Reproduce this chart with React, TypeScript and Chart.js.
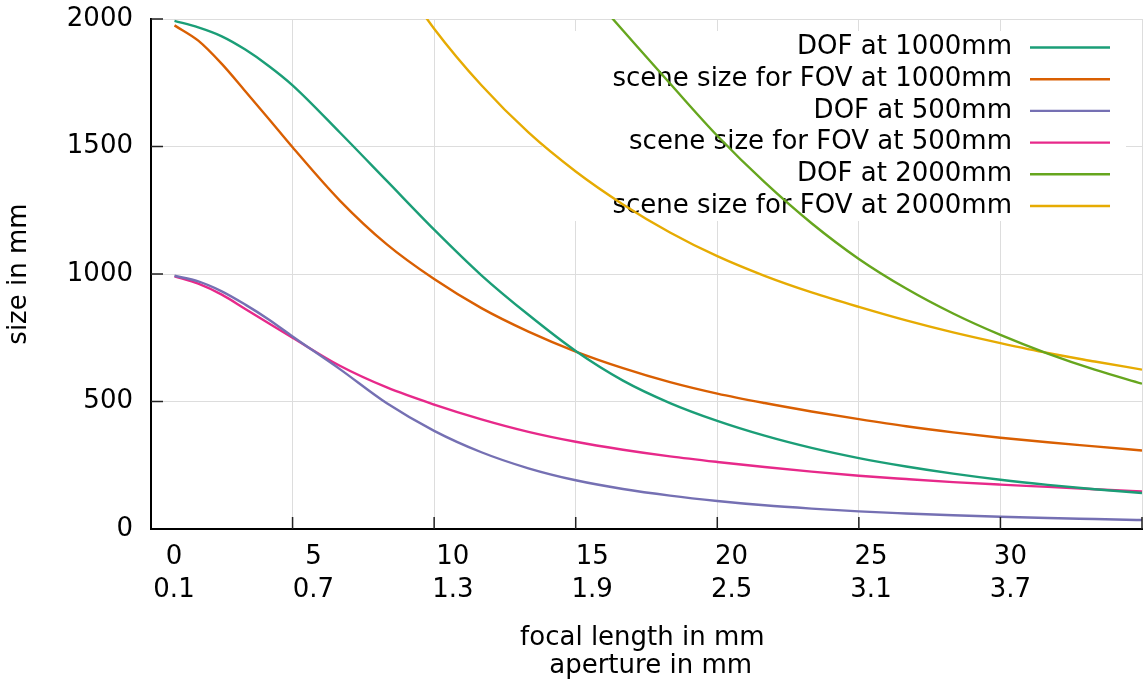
import React, { useEffect, useRef } from 'react';
import { Chart, registerables } from 'chart.js';

Chart.register(...registerables);

// focal length (mm) at which each row was sampled
const focalLength = [0.83, 1.67, 2.5, 3.33, 4.17, 5, 6.67, 8.33, 10, 11.67, 13.33, 15, 16.67, 18.33, 20, 21.67, 23.33, 25, 26.67, 28.33, 30, 31.67, 33.33, 35];

const dof1000 = [1993, 1967, 1932, 1880, 1815, 1740, 1555, 1365, 1174, 995, 840, 698, 582, 494, 424, 366, 318, 278, 245, 217, 193, 173, 156, 141];
const fov1000 = [1975, 1915, 1824, 1717, 1607, 1497, 1288, 1116, 980, 866, 774, 696, 631, 576, 531, 494, 461, 431, 403, 379, 358, 340, 324, 308];
const dof500 = [993, 971, 932, 880, 821, 755, 627, 493, 385, 301, 238, 191, 157, 131, 110, 93, 80, 69, 61, 54, 48, 43, 39, 35];
const fov500 = [991, 962, 919, 863, 806, 750, 640, 555, 488, 430, 381, 342, 311, 285, 263, 243, 225, 209, 196, 184, 174, 165, 156, 147];
const dof2000 = [null, null, null, null, null, null, null, null, null, null, null, 2165, 1955, 1747, 1542, 1360, 1199, 1059, 943, 845, 761, 688, 625, 570];
const fov2000 = [null, null, null, null, null, null, null, 2230, 1962, 1740, 1555, 1402, 1273, 1163, 1070, 993, 928, 871, 818, 771, 729, 690, 657, 625];

const seriesNames = [
  'DOF at 1000mm',
  'scene size for FOV at 1000mm',
  'DOF at 500mm',
  'scene size for FOV at 500mm',
  'DOF at 2000mm',
  'scene size for FOV at 2000mm',
];
const seriesValues = [dof1000, fov1000, dof500, fov500, dof2000, fov2000];
const seriesColors = ['#1b9e77', '#d95f02', '#7570b3', '#e7298a', '#66a61e', '#e6ab02'];

const focalTicks = ['0', '5', '10', '15', '20', '25', '30'];
const apertureTicks = ['0.1', '0.7', '1.3', '1.9', '2.5', '3.1', '3.7'];
const yTicks = [0, 500, 1000, 1500, 2000];

const FONT = "'DejaVu Sans', 'Noto Sans', sans-serif";

const keyPlugin = {
  id: 'gnuplotKey',
  beforeDatasetsDraw(chart: any) {
    const ctx = chart.ctx;
    ctx.save();
    ctx.fillStyle = '#ffffff';
    ctx.fillRect(542, 31, 584, 190);
    ctx.font = `26px ${FONT}`;
    ctx.textAlign = 'right';
    ctx.textBaseline = 'middle';
    chart.data.datasets.forEach((ds: any, i: number) => {
      const y = 47.5 + i * 31.7;
      ctx.fillStyle = '#000000';
      ctx.fillText(ds.label, 1012, y);
      ctx.strokeStyle = ds.borderColor;
      ctx.lineWidth = 2.4;
      ctx.beginPath();
      ctx.moveTo(1030, y);
      ctx.lineTo(1110, y);
      ctx.stroke();
    });
    ctx.restore();
  },
};

const inwardTicksPlugin = {
  id: 'inwardTicks',
  afterDraw(chart: any) {
    const { ctx, chartArea, scales } = chart;
    ctx.save();
    ctx.strokeStyle = '#222222';
    ctx.lineWidth = 1.5;
    ctx.beginPath();
    scales.y.ticks.forEach((t: any) => {
      if (t.value === 0) return;
      const y = scales.y.getPixelForValue(t.value);
      ctx.moveTo(chartArea.left, y);
      ctx.lineTo(chartArea.left + 12, y);
    });
    scales.x.ticks.forEach((t: any) => {
      if (t.value === 0) return;
      const x = scales.x.getPixelForValue(t.value);
      ctx.moveTo(x, chartArea.bottom);
      ctx.lineTo(x, chartArea.bottom - 12);
    });
    ctx.stroke();
    ctx.restore();
  },
};

export default function App() {
  const canvasRef = useRef<HTMLCanvasElement>(null);

  useEffect(() => {
    if (!canvasRef.current) return;
    Chart.defaults.font.family = FONT;
    Chart.defaults.color = '#000000';
    const datasets = seriesNames.map((name, s) => ({
      label: name,
      data: focalLength.map((x, i) => ({ x, y: seriesValues[s][i] })),
      borderColor: seriesColors[s],
      backgroundColor: seriesColors[s],
      borderWidth: 2.4,
      pointRadius: 0,
      fill: false,
      cubicInterpolationMode: 'monotone' as const,
      clip: 0,
      xAxisID: 'x',
      yAxisID: 'y',
    }));

    const chart = new Chart(canvasRef.current, {
      type: 'line',
      data: { datasets },
      options: {
        animation: false,
        responsive: false,
        events: [],
        layout: { autoPadding: false, padding: { top: 19, right: 2, left: 0, bottom: 0 } },
        plugins: { legend: { display: false }, tooltip: { enabled: false } },
        scales: {
          x: {
            type: 'linear',
            position: 'bottom',
            weight: 0,
            min: 0,
            max: 35,
            ticks: { display: false, stepSize: 5 },
            grid: { color: '#dddddd', lineWidth: 1, drawTicks: false },
            border: { display: true, color: '#000000', width: 2 },
            afterFit: (scale: any) => {
              scale.height = 0;
              scale.paddingLeft = 0;
              scale.paddingRight = 0;
            },
          },
          x2: {
            type: 'linear',
            position: 'bottom',
            weight: 1,
            min: -0.825,
            max: 34.72,
            grid: { display: false, drawTicks: false },
            border: { display: false },
            ticks: {
              stepSize: 5,
              autoSkip: false,
              includeBounds: false,
              maxRotation: 0,
              padding: 12,
              color: '#000000',
              font: { size: 26, lineHeight: 1.25 },
              callback: (value: any) => {
                const i = Math.round(Number(value) / 5);
                if (Math.abs(Number(value) - i * 5) > 1e-6 || i < 0 || i >= focalTicks.length) return null;
                return [focalTicks[i], apertureTicks[i]];
              },
            },
            title: {
              display: true,
              text: ['focal length in mm ', ' aperture in mm'],
              color: '#000000',
              font: { size: 26, lineHeight: 1.1 },
              padding: { top: 0, bottom: 1 },
            },
            afterFit: (scale: any) => {
              scale.height = 153;
              scale.paddingLeft = 0;
              scale.paddingRight = 0;
            },
          },
          y: {
            type: 'linear',
            position: 'left',
            min: 0,
            max: 2000,
            afterBuildTicks: (scale: any) => {
              scale.ticks = yTicks.map((v) => ({ value: v }));
            },
            ticks: {
              padding: 18,
              color: '#000000',
              font: { size: 26, lineHeight: 1.2 },
              callback: (value: any) => String(value),
            },
            grid: { color: '#dddddd', lineWidth: 1, drawTicks: false },
            border: { display: true, color: '#000000', width: 2 },
            title: {
              display: true,
              text: 'size in mm',
              color: '#000000',
              font: { size: 26, lineHeight: 1.2 },
              padding: { top: 4, bottom: 4 },
            },
            afterFit: (scale: any) => {
              scale.width = 151;
              scale.paddingTop = 0;
              scale.paddingBottom = 0;
            },
          },
        },
      },
      plugins: [keyPlugin, inwardTicksPlugin],
    } as any);

    return () => {
      chart.destroy();
    };
  }, []);

  return (
    <div style={{ position: 'absolute', left: 0, top: 0, width: 1144, height: 682, background: '#ffffff' }}>
      <canvas ref={canvasRef} width={1144} height={682} style={{ display: 'block', width: 1144, height: 682 }} />
    </div>
  );
}
